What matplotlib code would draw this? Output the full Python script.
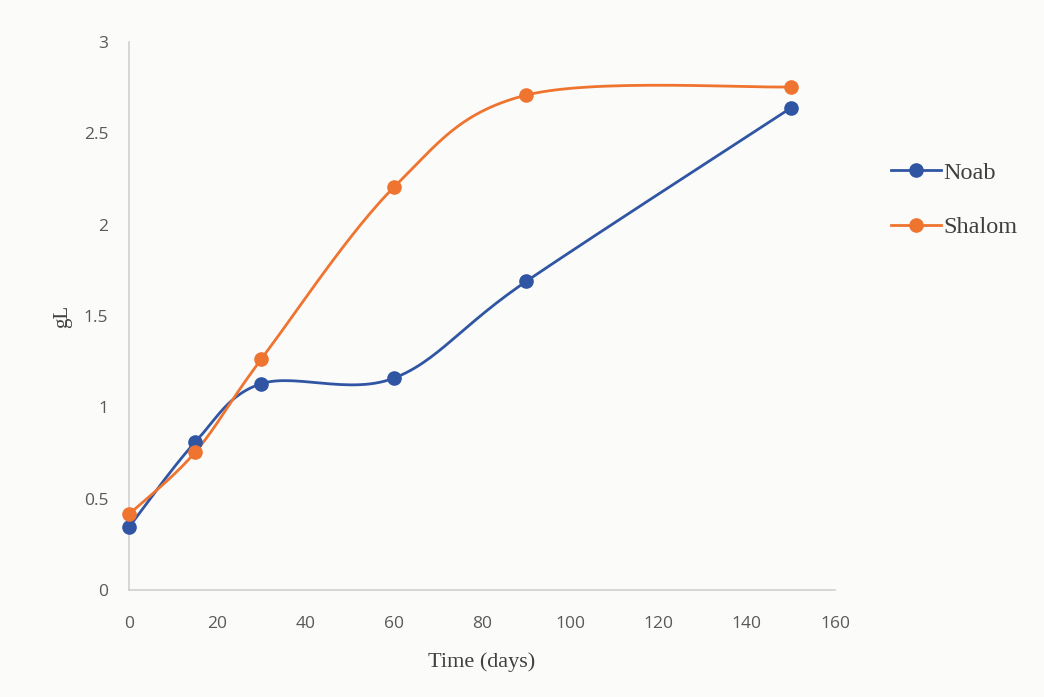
import numpy as np
import matplotlib.pyplot as plt

days = [0, 15, 30, 60, 90, 150]
noab = [0.345, 0.81, 1.13, 1.16, 1.69, 2.64]
shalom = [0.415, 0.755, 1.265, 2.205, 2.71, 2.755]


def smooth(x, y, n=30):
    # Excel-style smoothed line: cubic bezier with catmull-rom control points
    x = np.asarray(x, float)
    y = np.asarray(y, float)
    px = np.concatenate([[x[0]], x, [x[-1]]])
    py = np.concatenate([[y[0]], y, [y[-1]]])
    xs, ys = [], []
    t = np.linspace(0, 1, n)
    for i in range(len(x) - 1):
        p0 = np.array([px[i + 1], py[i + 1]])
        p3 = np.array([px[i + 2], py[i + 2]])
        p1 = p0 + (p3 - np.array([px[i], py[i]])) / 6
        p2 = p3 - (np.array([px[i + 3], py[i + 3]]) - p0) / 6
        b = ((1 - t) ** 3)[:, None] * p0 + (3 * (1 - t) ** 2 * t)[:, None] * p1 \
            + (3 * (1 - t) * t ** 2)[:, None] * p2 + (t ** 3)[:, None] * p3
        xs.extend(b[:, 0])
        ys.extend(b[:, 1])
    return xs, ys


blue = '#2F55A3'
orange = '#EF7430'

fig = plt.figure(figsize=(10.44, 6.97), dpi=100, facecolor='#FBFBFA')
ax = fig.add_axes([0.1236, 0.1535, 0.6763, 0.786])
ax.set_facecolor('#FBFBFA')

for vals, c, name in [(noab, blue, 'Noab'), (shalom, orange, 'Shalom')]:
    sx, sy = smooth(days, vals)
    ax.plot(sx, sy, color=c, lw=2.0, zorder=2, clip_on=False)
    ax.plot(days, vals, 'o', color=c, ms=9.5, zorder=3, clip_on=False)
    ax.plot([], [], '-o', color=c, lw=2.0, ms=9.5, label=name)

ax.set_xlim(0, 160)
ax.set_ylim(0, 3)
ax.set_xticks(range(0, 161, 20))
ax.set_yticks([0, 0.5, 1, 1.5, 2, 2.5, 3])
ax.set_yticklabels(['0', '0.5', '1', '1.5', '2', '2.5', '3'])
ax.tick_params(length=0, labelsize=12.5, labelcolor='#595959')
ax.tick_params(axis='x', pad=19)
ax.tick_params(axis='y', pad=15)
for lab in ax.get_xticklabels() + ax.get_yticklabels():
    lab.set_family('Open Sans')
for s in ['top', 'right']:
    ax.spines[s].set_visible(False)
for s in ['left', 'bottom']:
    ax.spines[s].set_color('#D0D0D0')
    ax.spines[s].set_linewidth(1.2)

ax.set_xlabel('Time (days)', family='Liberation Serif', fontsize=16, color='#404040', labelpad=14)
ax.set_ylabel('gL', family='Liberation Serif', fontsize=15, color='#404040', labelpad=8)

ax.legend(loc='center left', bbox_to_anchor=(1.048, 0.712), frameon=False,
          prop={'family': 'Liberation Serif', 'size': 17.5}, labelcolor='#404040',
          handlelength=2.06, handletextpad=0.1, labelspacing=1.35)

fig.savefig('out.png', dpi=100, facecolor=fig.get_facecolor())
